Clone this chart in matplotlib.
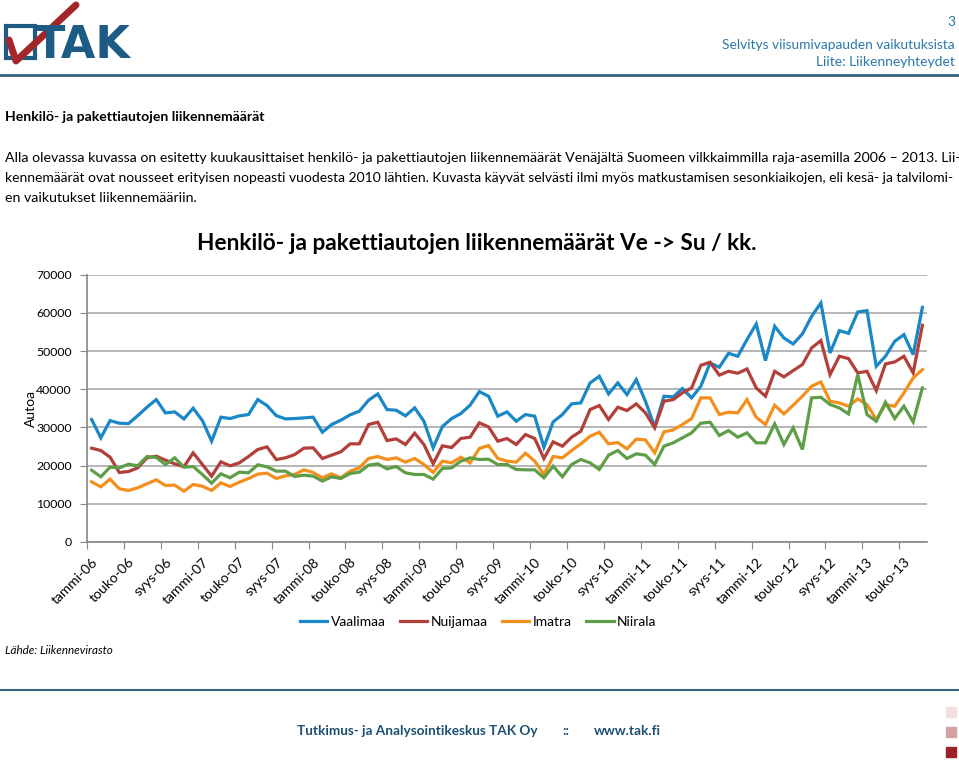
import numpy as np
import matplotlib
matplotlib.use("Agg")
import matplotlib.pyplot as plt
from matplotlib.lines import Line2D
from matplotlib.patches import Rectangle

plt.rcParams['font.family'] = ['Lato', 'DejaVu Sans']

# monthly data, tammi-06 .. heinä-13
kuukaudet = ["tammi", "helmi", "maalis", "huhti", "touko", "kesä",
             "heinä", "elo", "syys", "loka", "marras", "joulu"]
labels = [f"{kuukaudet[i % 12]}-{6 + i // 12:02d}" for i in range(91)]

vaalimaa = [32070, 27270, 31800, 31100, 31020, 33100, 35300, 37300, 33800, 34070,
            32240, 35030, 31800, 26400, 32680, 32330, 33030, 33380, 37300, 35730,
            33100, 32240, 32330, 32500, 32680, 28750, 30760, 31890, 33290, 34250,
            37130, 38780, 34680, 34510, 33030, 35120, 31630, 24660, 30240, 32330,
            33640, 35820, 39390, 38170, 32940, 34070, 31630, 33380, 32940, 24830,
            31460, 33380, 36170, 36430, 41660, 43400, 38780, 41660, 38610, 42530,
            36860, 30060, 38170, 38000, 40180, 37740, 40790, 46890, 45760, 49420,
            48640, 53000, 57090, 47500, 56480, 53430, 51860, 54480, 59100, 62590,
            49510, 55350, 54650, 60230, 60580, 46020, 48640, 52560, 54300, 49070,
            61450]
nuijamaa = [24570, 23960, 22210, 18200, 18460, 19420, 22040, 22480, 21430, 20470,
            19690, 23350, 20300, 17240, 20990, 19950, 20730, 22390, 24220, 24920,
            21600, 22040, 22900, 24570, 24660, 21870, 22740, 23610, 25700, 25700,
            30760, 31370, 26570, 27010, 25530, 28490, 25530, 20470, 25180, 24740,
            27100, 27450, 31200, 30150, 26400, 27100, 25530, 28140, 27100, 21870,
            26230, 25090, 27450, 29020, 34680, 35730, 32070, 35290, 34420, 36170,
            33810, 29890, 36860, 37300, 39040, 40350, 46280, 47070, 43700, 44710,
            44190, 45320, 40350, 38170, 44710, 43230, 44890, 46460, 50820, 52730,
            43840, 48640, 48030, 44280, 44710, 39650, 46630, 47150, 48640, 44280,
            56750]
imatra = [15760, 14450, 16460, 13930, 13490, 14190, 15240, 16290, 14800, 14890,
          13320, 15060, 14630, 13490, 15500, 14540, 15670, 16630, 17770, 18030,
          16630, 17330, 17680, 18900, 18200, 16810, 17850, 16810, 18550, 19420,
          21870, 22390, 21600, 22040, 20910, 21870, 20300, 18200, 21170, 20730,
          22210, 20730, 24480, 25270, 21870, 21170, 20910, 23260, 21170, 17680,
          22390, 22040, 23960, 25700, 27710, 28750, 25700, 26050, 24390, 26920,
          26750, 23350, 28840, 29360, 30760, 32330, 37740, 37740, 33380, 33990,
          33810, 37300, 32680, 30760, 35820, 33550, 35820, 38170, 40790, 41920,
          36860, 36430, 35560, 37470, 35990, 32070, 35990, 35560, 39040, 42970,
          45150]
niirala = [18810, 17070, 19600, 19420, 20380, 19950, 22390, 22130, 20300, 22040,
           19600, 19770, 17680, 15410, 17850, 16810, 18290, 18120, 20210, 19690,
           18550, 18550, 17160, 17510, 17240, 15940, 17070, 16630, 17940, 18290,
           20120, 20470, 19160, 19770, 18120, 17680, 17680, 16460, 19250, 19420,
           21170, 22040, 21600, 21690, 20300, 20300, 18990, 18900, 18900, 16810,
           19860, 17070, 20300, 21600, 20730, 18990, 22740, 23960, 21870, 23090,
           22740, 20300, 25090, 25960, 27270, 28580, 31110, 31370, 27900, 29190,
           27450, 28580, 25960, 25960, 30930, 25530, 29890, 24220, 37740, 37910,
           35990, 35120, 33550, 43840, 33380, 31630, 36600, 32330, 35560, 31460,
           40350]

series = [("Vaalimaa", vaalimaa, "#1a87c6"),
          ("Nuijamaa", nuijamaa, "#b33f3a"),
          ("Imatra", imatra, "#f3901d"),
          ("Niirala", niirala, "#5e9e48")]

W, H = 959, 760
fig = plt.figure(figsize=(W / 100, H / 100), dpi=100)
renderer = fig.canvas.get_renderer()


def fx(x):
    return x / W


def fy(y):
    return 1 - y / H


def fit(t, width):
    # scale the font so the text spans the given width in pixels
    w = t.get_window_extent(renderer).width
    t.set_fontsize(t.get_fontsize() * width / w)
    return t


navy = "#1d5b85"
teal = "#2a79a8"

# logo
fig.add_artist(Rectangle((fx(6), fy(58)), fx(29), 32 / H, fill=False,
                         edgecolor=navy, lw=3, transform=fig.transFigure))
fig.text(fx(35), fy(58), "TAK", color=navy, fontsize=32, fontweight="heavy",
         family="DejaVu Sans", ha="left", va="baseline")
fig.add_artist(Line2D([fx(9), fx(16), fx(76)], [fy(40), fy(61), fy(5)],
                      color="#a3262a", lw=5, solid_capstyle="round",
                      transform=fig.transFigure))

# header
fig.text(fx(955), fy(22), "3", color=teal, fontsize=10, ha="right", va="center")
fit(fig.text(fx(955), fy(45), "Selvitys viisumivapauden vaikutuksista", color=teal,
             fontsize=10, ha="right", va="center"), 232)
fit(fig.text(fx(955), fy(62), "Liite: Liikenneyhteydet", color=teal,
             fontsize=10, ha="right", va="center"), 139)
fig.add_artist(Line2D([0, 1], [fy(75), fy(75)], color="#36627f", lw=2,
                      transform=fig.transFigure))

fit(fig.text(fx(5), fy(117), "Henkilö- ja pakettiautojen liikennemäärät",
             fontsize=10, fontweight="bold", va="center"), 258)
para = ["Alla olevassa kuvassa on esitetty kuukausittaiset henkilö- ja pakettiautojen liikennemäärät Venäjältä Suomeen vilkkaimmilla raja-asemilla 2006 – 2013. Lii-",
        "kennemäärät ovat nousseet erityisen nopeasti vuodesta 2010 lähtien. Kuvasta käyvät selvästi ilmi myös matkustamisen sesonkiaikojen, eli kesä- ja talvilomi-",
        "en vaikutukset liikennemääriin."]
# justified lines: the first two span the full text width
first = fit(fig.text(fx(5), fy(158), para[0], fontsize=10, va="center"), 950)
fit(fig.text(fx(5), fy(178), para[1], fontsize=10, va="center"), 950)
fig.text(fx(5), fy(198), para[2], fontsize=first.get_fontsize(), va="center")

# chart
ax = fig.add_axes([fx(87), fy(542), (927 - 87) / W, (542 - 274.7) / H])
x = np.arange(len(labels))
for name, vals, col in series:
    ax.plot(x, vals, color=col, lw=2.3, label=name, solid_joinstyle="miter")

ax.set_xlim(-0.5, len(labels) - 0.5)
ax.set_ylim(0, 70000)
ax.set_yticks(np.arange(0, 70001, 10000))
ax.tick_params(axis="y", labelsize=8.8, length=5, color="#868686", pad=6)
ax.grid(axis="y", color="#b0b0b0", lw=1.3)
ax.set_axisbelow(True)

ax.set_xticks(np.arange(-0.5, len(labels) - 1, 4))
ax.set_xticklabels([])
ax.tick_params(axis="x", which="major", length=5, color="#868686")
ax.set_xticks(x[::4], minor=True)
ax.set_xticklabels(labels[::4], minor=True, rotation=45, ha="right",
                   rotation_mode="anchor", fontsize=10)
ax.tick_params(axis="x", which="minor", length=0, pad=10)

for s in ["top", "right"]:
    ax.spines[s].set_visible(False)
for s in ["left", "bottom"]:
    ax.spines[s].set_color("#868686")
    ax.spines[s].set_linewidth(1.2)

ax.set_ylabel("Autoa", fontsize=10)
ax.yaxis.set_label_coords(-0.059, 0.5)
fit(fig.text(fx(477), fy(243), "Henkilö- ja pakettiautojen liikennemäärät Ve -> Su / kk.",
             fontsize=16, fontweight="bold", ha="center", va="center"), 560)

fig.legend(loc="center", bbox_to_anchor=(fx(478), fy(622)), ncol=4, frameon=False,
           fontsize=10, handlelength=2.0, handletextpad=0.25, columnspacing=1.0)

fit(fig.text(fx(5), fy(650), "Lähde: Liikennevirasto", fontsize=9, style="italic",
             va="center"), 108)

# footer
fig.add_artist(Line2D([0, 1], [fy(690), fy(690)], color="#36627f", lw=1.5,
                      transform=fig.transFigure))
foot = fit(fig.text(fx(297), fy(731), "Tutkimus- ja Analysointikeskus TAK Oy",
                    color="#1d4f72", fontsize=10, fontweight="bold", va="center"), 240)
fig.text(fx(562), fy(731), "::", color="#1d4f72", fontsize=foot.get_fontsize(),
         fontweight="bold", va="center")
fig.text(fx(594), fy(731), "www.tak.fi", color="#1d4f72", fontsize=foot.get_fontsize(),
         fontweight="bold", va="center")
for yy, c in [(712, "#f2e0e1"), (732, "#d4a0a2"), (752, "#9b2226")]:
    fig.add_artist(Rectangle((fx(946), fy(yy + 5)), fx(10), 10 / H, color=c,
                             transform=fig.transFigure))

fig.savefig("out.png", dpi=100)
